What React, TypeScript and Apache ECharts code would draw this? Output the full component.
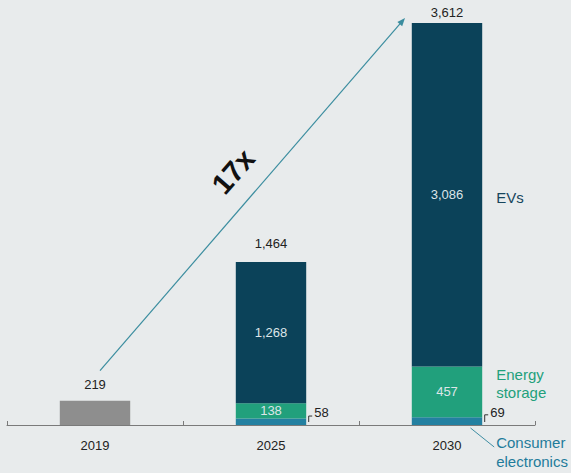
import React, { useEffect, useRef } from 'react';
import * as echarts from 'echarts';

const years = ['2019', '2025', '2030'];
const total2019: (number | string)[] = [219, '-', '-'];
const consumerElectronics: (number | string)[] = ['-', 58, 69];
const energyStorage: (number | string)[] = ['-', 138, 457];
const evs: (number | string)[] = ['-', 1268, 3086];
const growthLabel = '17x';
const segmentNames = ['EVs', 'Energy\nstorage', 'Consumer\nelectronics'];

const num = (v: number | string) => (typeof v === 'number' ? v : 0);
const totals = years.map((_, i) =>
  num(total2019[i]) + num(consumerElectronics[i]) + num(energyStorage[i]) + num(evs[i])
);
const fmt = (n: number) => n.toLocaleString('en-US');

const FONT = '"Liberation Sans", Arial, sans-serif';
const C_EV = '#0b4259';
const C_ES = '#21a07c';
const C_CE = '#2380a1';
const C_GRAY = '#8e8e8e';
const C_ARROW = '#3b8d9f';
const BG = '#e8ebec';
const BAR_RATIO = 0.4;

export default function App() {
  const ref = useRef<HTMLDivElement>(null);
  useEffect(() => {
    document.body.style.margin = '0';
    document.body.style.background = BG;
    const chart = echarts.init(ref.current!, null, { renderer: 'svg' });
    const totalDistances = [10, 12, 4];
    const option: any = {
      animation: false,
      backgroundColor: BG,
      textStyle: { fontFamily: FONT },
      grid: { left: 7, right: 36, top: 23, bottom: 48 },
      xAxis: {
        type: 'category',
        data: years,
        axisLine: { lineStyle: { color: '#7a7a7a', width: 1 } },
        axisTick: { show: true, inside: true, length: 4, lineStyle: { color: '#7a7a7a' } },
        axisLabel: { color: '#222', fontSize: 13, margin: 14, fontFamily: FONT },
      },
      yAxis: { type: 'value', min: 0, max: totals[2], show: false, splitLine: { show: false } },
      series: [
        {
          name: '2019',
          type: 'bar',
          stack: 'a',
          barWidth: BAR_RATIO * 100 + '%',
          data: total2019,
          itemStyle: { color: C_GRAY },
        },
        {
          name: 'Consumer electronics',
          type: 'bar',
          stack: 'a',
          data: consumerElectronics,
          itemStyle: { color: C_CE },
          label: {
            show: true,
            position: 'right',
            distance: 8,
            offset: [0, -9],
            color: '#222',
            fontSize: 13,
            fontFamily: FONT,
            formatter: (p: any) => fmt(p.value),
          },
        },
        {
          name: 'Energy storage',
          type: 'bar',
          stack: 'a',
          data: energyStorage,
          itemStyle: { color: C_ES },
          label: {
            show: true,
            position: 'inside',
            color: '#dde5e8',
            fontSize: 13,
            fontFamily: FONT,
            formatter: (p: any) => fmt(p.value),
          },
        },
        {
          name: 'EVs',
          type: 'bar',
          stack: 'a',
          data: evs,
          itemStyle: { color: C_EV },
          label: {
            show: true,
            position: 'inside',
            color: '#dde5e8',
            fontSize: 13,
            fontFamily: FONT,
            formatter: (p: any) => fmt(p.value),
          },
        },
        {
          name: 'Total',
          type: 'bar',
          stack: 'a',
          data: totals.map((_, i) => ({ value: 0, label: { distance: totalDistances[i] } })),
          itemStyle: { color: 'transparent' },
          label: {
            show: true,
            position: 'top',
            color: '#222',
            fontSize: 13,
            fontFamily: FONT,
            formatter: (p: any) => fmt(totals[p.dataIndex]),
          },
        },
      ],
    };
    chart.setOption(option);

    const px = (cat: string, v: number) => chart.convertToPixel({ gridIndex: 0 }, [cat, v]) as number[];
    const band = px(years[1], 0)[0] - px(years[0], 0)[0];
    const half = (band * BAR_RATIO) / 2;

    const graphics: any[] = [];
    // brackets for consumer electronics labels
    [1, 2].forEach((i) => {
      const base = px(years[i], 0);
      const top = px(years[i], num(consumerElectronics[i]));
      const xr = base[0] + half + 2.5;
      graphics.push({
        type: 'polyline',
        shape: { points: [[xr, base[1] - 3], [xr, top[1] - 2.5], [xr + 3.5, top[1] - 2.5]] },
        style: { stroke: '#333', lineWidth: 1, fill: null },
      });
    });

    // right side segment names for 2030
    const i30 = 2;
    const base30 = px(years[i30], 0);
    const rightX = base30[0] + half + 14;
    const ceTop = px(years[i30], num(consumerElectronics[i30]));
    const esTop = px(years[i30], num(consumerElectronics[i30]) + num(energyStorage[i30]));
    const evTop = px(years[i30], totals[i30]);
    graphics.push({
      type: 'text',
      x: rightX,
      y: (esTop[1] + evTop[1]) / 2 + 3,
      style: { text: segmentNames[0], fill: '#16455c', font: `15px ${FONT}`, textAlign: 'left', textVerticalAlign: 'middle' },
    });
    graphics.push({
      type: 'text',
      x: rightX,
      y: (esTop[1] + ceTop[1]) / 2 - 8,
      style: { text: segmentNames[1], fill: '#22a07b', font: `15px ${FONT}`, textAlign: 'left', textVerticalAlign: 'middle', lineHeight: 18 },
    });
    graphics.push({
      type: 'text',
      x: rightX,
      y: base30[1] + 27,
      style: { text: segmentNames[2], fill: '#1f7c9b', font: `15px ${FONT}`, textAlign: 'left', textVerticalAlign: 'middle', lineHeight: 19 },
    });
    graphics.push({
      type: 'line',
      shape: { x1: base30[0] + 23.5, y1: base30[1] + 3, x2: base30[0] + half + 12, y2: base30[1] + 22 },
      style: { stroke: '#3f8ea3', lineWidth: 1 },
    });

    // growth arrow
    const p19 = px(years[0], totals[0]);
    const sx = p19[0] + 5, sy = p19[1] - 30;
    const ex = evTop[0] - 42, ey = evTop[1] - 5;
    const dx = ex - sx, dy = ey - sy;
    const len = Math.sqrt(dx * dx + dy * dy);
    const ux = dx / len, uy = dy / len;
    const ah = 8, aw = 3.2;
    graphics.push({
      type: 'line',
      shape: { x1: sx, y1: sy, x2: ex - ux * ah * 0.8, y2: ey - uy * ah * 0.8 },
      style: { stroke: C_ARROW, lineWidth: 1.2 },
    });
    graphics.push({
      type: 'polygon',
      shape: {
        points: [
          [ex, ey],
          [ex - ux * ah - uy * aw, ey - uy * ah + ux * aw],
          [ex - ux * ah + uy * aw, ey - uy * ah - ux * aw],
        ],
      },
      style: { fill: C_ARROW },
    });
    // 17x label
    const t = 0.51, perp = 29.5;
    const tx = sx + dx * t + uy * perp;
    const ty = sy + dy * t - ux * perp;
    const angle = Math.atan2(-dy, dx);
    graphics.push({
      type: 'text',
      x: tx,
      y: ty,
      rotation: angle,
      style: { text: growthLabel, fill: '#111', font: `bold 29px ${FONT}`, textAlign: 'center', textVerticalAlign: 'middle' },
    });

    chart.setOption({ graphic: graphics });
    return () => chart.dispose();
  }, []);
  return <div ref={ref} style={{ width: 571, height: 473 }} />;
}
